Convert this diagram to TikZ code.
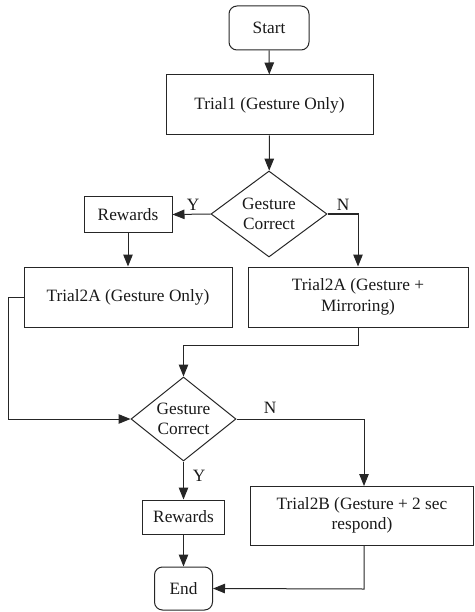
\documentclass[tikz,border=0pt]{standalone}
\usepackage{fontspec}
\setmainfont{Liberation Serif}
\newfontfamily\tms{Liberation Serif}
\usetikzlibrary{shapes.geometric,arrows.meta}
\begin{document}
\begin{tikzpicture}[x=1pt,y=-1pt,
  every node/.style={font=\tms\fontsize{17.3}{20.5}\selectfont, text=black!90},
  box/.style={draw=black!85, line width=1pt, rectangle, inner sep=0pt, align=center},
  term/.style={box, rounded corners=8pt},
  dec/.style={draw=black!85, line width=1pt, diamond, inner sep=0pt, align=center, aspect=1.35},
  conn/.style={draw=black!85, line width=1pt, -{Triangle[length=12pt,width=9.5pt]}},
  lbl/.style={inner sep=0pt}]
\useasboundingbox (0,0) rectangle (474,612);
\node[term, minimum width=80pt, minimum height=44pt] (start) at (269,28) {Start};
\node[box, minimum width=207pt, minimum height=60pt] (t1) at (269.5,105) {Trial1 (Gesture Only)};
\node[dec, minimum width=116pt, minimum height=86pt] (d1) at (269,214) {Gesture\\Correct};
\node[box, minimum width=88pt, minimum height=35pt] (r1) at (128,214.5) {Rewards};
\node[box, minimum width=208pt, minimum height=60pt] (t2l) at (128,297) {Trial2A (Gesture Only)};
\node[box, minimum width=220pt, minimum height=60pt] (t2r) at (358,297) {Trial2A (Gesture +\\Mirroring)};
\node[dec, minimum width=105pt, minimum height=84pt] (d2) at (183.5,419) {Gesture\\Correct};
\node[box, minimum width=223pt, minimum height=59pt] (t2b) at (362,515.5) {Trial2B (Gesture + 2 sec\\respond)};
\node[box, minimum width=82pt, minimum height=34pt] (r2) at (183.5,517) {Rewards};
\node[term, minimum width=58pt, minimum height=43pt] (end) at (183.5,588.5) {End};

\coordinate (c1) at (358,214);
\coordinate (c2) at (358,345);
\coordinate (c3) at (183.5,345);
\coordinate (c4) at (8,297);
\coordinate (c5) at (8,419);
\coordinate (c6) at (364,419);
\coordinate (c7) at (364,486);
\coordinate (c8) at (364,545);
\coordinate (c9) at (364,589);

\draw[conn] (start) -- (t1);
\draw[conn] (t1) -- (d1);
\draw[conn] (d1.west) -- (r1.east);
\draw[conn] (d1.east) -- (c1) -- (t2r.north);
\draw[conn] (r1) -- (t2l);
\draw[conn] (t2r.south) -- (c2) -- (c3) -- (d2.north);
\draw[conn] (t2l.west) -- (c4) -- (c5) -- (d2.west);
\draw[conn] (d2.east) -- (c6) -- (c7);
\draw[conn] (d2.south) -- (r2.north);
\draw[conn] (r2.south) -- (end.north);
\draw[conn] (c8) -- (c9) -- (end.east);

\node[lbl] (y1) at (193,205) {Y};
\node[lbl] (n1) at (343,205) {N};
\node[lbl] (n2) at (270,408) {N};
\node[lbl] (y2) at (199,476) {Y};
\end{tikzpicture}
\end{document}
